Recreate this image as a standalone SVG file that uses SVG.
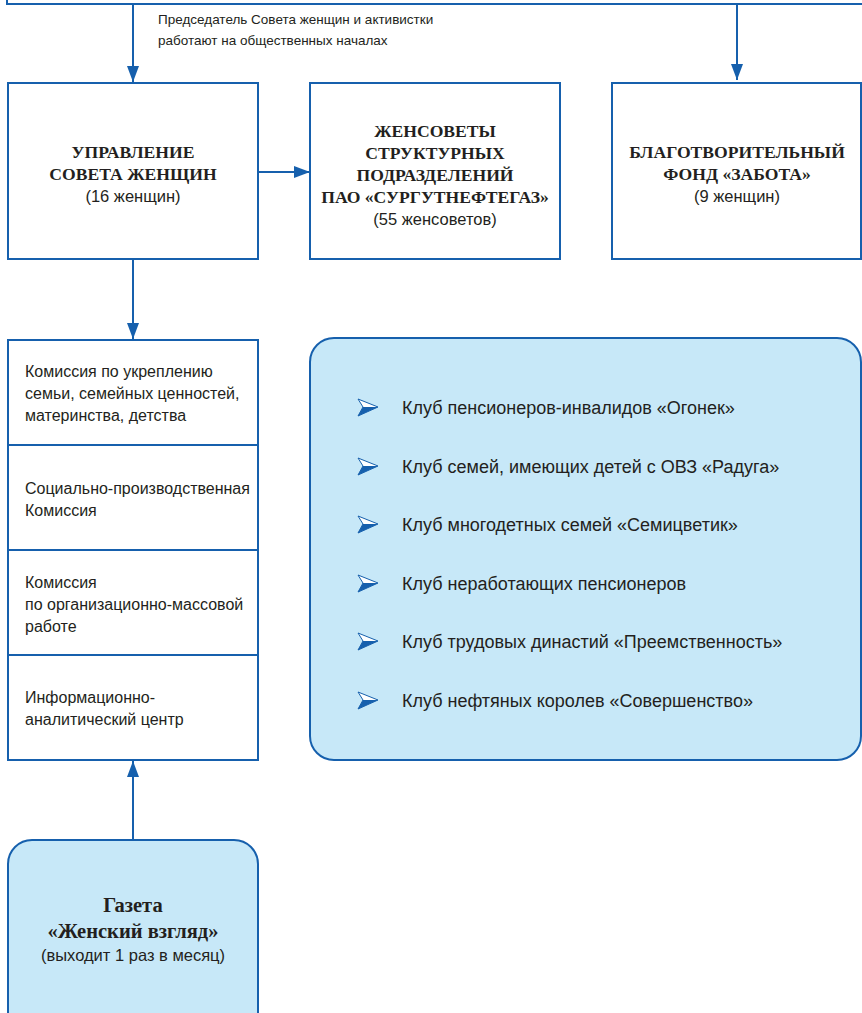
<svg xmlns="http://www.w3.org/2000/svg" width="862" height="1013" viewBox="0 0 862 1013">
<style>
.box{fill:#ffffff;stroke:#1660ad;stroke-width:2}
.rbox{fill:#c7e8f8;stroke:#1660ad;stroke-width:2}
.line{stroke:#1660ad;stroke-width:2;fill:none}
.title{font-family:"Liberation Serif",serif;font-weight:bold;font-size:17.6px;fill:#231f20;text-anchor:middle}
.gz{font-family:"Liberation Serif",serif;font-weight:bold;font-size:20.5px;fill:#231f20;text-anchor:middle}
.sub{font-family:"Liberation Sans",sans-serif;font-size:16.5px;fill:#231f20;text-anchor:middle}
.item{font-family:"Liberation Sans",sans-serif;font-size:16px;fill:#231f20}
.club{font-family:"Liberation Sans",sans-serif;font-size:18px;fill:#231f20}
.note{font-family:"Liberation Sans",sans-serif;font-size:13.5px;fill:#231f20}
</style>
<defs>
<marker id="arr" markerWidth="16" markerHeight="12" refX="16" refY="6" orient="auto" markerUnits="userSpaceOnUse" viewBox="0 0 16 12">
<path d="M0,0 L16,6 L0,12 Z" fill="#1660ad"/>
</marker>
<g id="bullet">
<path d="M0,0 L20,8 L0,17 L5,8 Z" fill="#ffffff" stroke="#1660ad" stroke-width="1"/>
<path d="M5,8 L20,8 L0,17 Z" fill="#1660ad"/>
</g>
</defs>
<g id="top">
<path class="line" d="M7,-5 L7,4 L870,4"/>
<text class="note" x="158" y="24">Председатель Совета женщин и активистки</text>
<text class="note" x="158" y="45">работают на общественных началах</text>
</g>
<g id="connectors">
<line class="line" x1="133" y1="4" x2="133" y2="82" marker-end="url(#arr)"/>
<line class="line" x1="737" y1="4" x2="737" y2="80" marker-end="url(#arr)"/>
<line class="line" x1="258" y1="172" x2="310" y2="172" marker-end="url(#arr)"/>
<line class="line" x1="133" y1="259" x2="133" y2="339" marker-end="url(#arr)"/>
<line class="line" x1="133" y1="840" x2="133" y2="761" marker-end="url(#arr)"/>
</g>
<g id="upravlenie">
<rect class="box" x="8" y="83" width="250" height="176"/>
<text class="title" x="133" y="158">УПРАВЛЕНИЕ</text>
<text class="title" x="133" y="180">СОВЕТА ЖЕНЩИН</text>
<text class="sub" x="133" y="202">(16 женщин)</text>
</g>
<g id="zhensovety">
<rect class="box" x="310" y="83" width="250" height="176"/>
<text class="title" x="435" y="137">ЖЕНСОВЕТЫ</text>
<text class="title" x="435" y="159">СТРУКТУРНЫХ</text>
<text class="title" x="435" y="181">ПОДРАЗДЕЛЕНИЙ</text>
<text class="title" x="435" y="203">ПАО «СУРГУТНЕФТЕГАЗ»</text>
<text class="sub" x="435" y="225">(55 женсоветов)</text>
</g>
<g id="fond">
<rect class="box" x="612" y="83" width="249" height="176"/>
<text class="title" x="737" y="158">БЛАГОТВОРИТЕЛЬНЫЙ</text>
<text class="title" x="737" y="180">ФОНД «ЗАБОТА»</text>
<text class="sub" x="737" y="202">(9 женщин)</text>
</g>
<g id="komissii">
<rect class="box" x="8" y="340" width="250" height="420"/>
<line class="line" x1="8" y1="445" x2="258" y2="445"/>
<line class="line" x1="8" y1="550" x2="258" y2="550"/>
<line class="line" x1="8" y1="655" x2="258" y2="655"/>
<text class="item" x="25" y="377">Комиссия по укреплению</text>
<text class="item" x="25" y="399">семьи, семейных ценностей,</text>
<text class="item" x="25" y="421">материнства, детства</text>
<text class="item" x="25" y="494">Социально-производственная</text>
<text class="item" x="25" y="516">Комиссия</text>
<text class="item" x="25" y="588">Комиссия</text>
<text class="item" x="25" y="610">по организационно-массовой</text>
<text class="item" x="25" y="632">работе</text>
<text class="item" x="25" y="703">Информационно-</text>
<text class="item" x="25" y="725">аналитический центр</text>
</g>
<g id="kluby">
<rect class="rbox" x="310" y="338" width="551" height="422" rx="24" ry="24"/>
<use href="#bullet" x="358" y="399"/>
<use href="#bullet" x="358" y="458"/>
<use href="#bullet" x="358" y="516"/>
<use href="#bullet" x="358" y="575"/>
<use href="#bullet" x="358" y="633"/>
<use href="#bullet" x="358" y="692"/>
<text class="club" x="402" y="414">Клуб пенсионеров-инвалидов «Огонек»</text>
<text class="club" x="402" y="473">Клуб семей, имеющих детей с ОВЗ «Радуга»</text>
<text class="club" x="402" y="531">Клуб многодетных семей «Семицветик»</text>
<text class="club" x="402" y="590">Клуб неработающих пенсионеров</text>
<text class="club" x="402" y="648">Клуб трудовых династий «Преемственность»</text>
<text class="club" x="402" y="707">Клуб нефтяных королев «Совершенство»</text>
</g>
<g id="gazeta">
<rect class="rbox" x="8" y="840" width="250" height="200" rx="24" ry="24"/>
<text class="gz" x="133" y="912">Газета</text>
<text class="gz" x="133" y="938">«Женский взгляд»</text>
<text class="sub" x="133" y="961">(выходит 1 раз в месяц)</text>
</g>
</svg>
